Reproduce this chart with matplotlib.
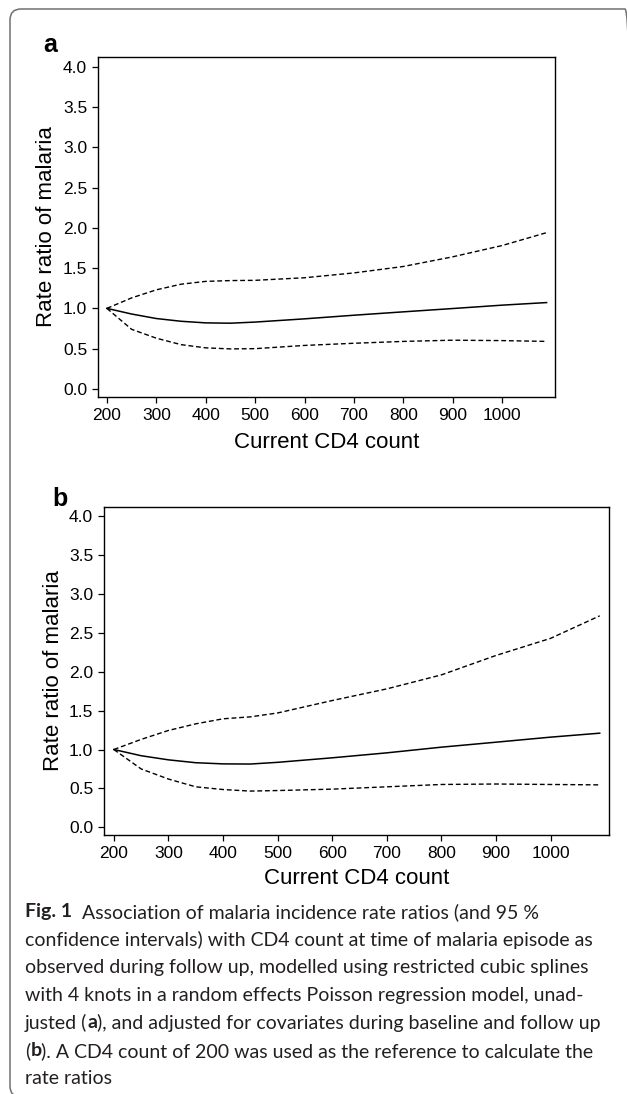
import matplotlib; matplotlib.use("Agg")
import matplotlib.pyplot as plt
from matplotlib.patches import FancyBboxPatch
from matplotlib.transforms import IdentityTransform

# CD4 count grid
cd4 = [200, 250, 300, 350, 400, 450, 500, 600, 700, 800, 900, 1000, 1090]

# panel a: unadjusted
rr_a    = [1.0, 0.93, 0.874, 0.84, 0.82, 0.816, 0.83, 0.87, 0.915, 0.957, 0.998, 1.04, 1.072]
upper_a = [1.0, 1.13, 1.23, 1.30, 1.335, 1.345, 1.348, 1.38, 1.44, 1.52, 1.64, 1.78, 1.94]
lower_a = [1.0, 0.74, 0.63, 0.55, 0.51, 0.497, 0.50, 0.54, 0.567, 0.59, 0.605, 0.60, 0.59]

# panel b: adjusted
rr_b    = [1.0, 0.92, 0.867, 0.83, 0.815, 0.813, 0.835, 0.893, 0.957, 1.03, 1.094, 1.159, 1.21]
upper_b = [1.0, 1.13, 1.245, 1.33, 1.395, 1.42, 1.47, 1.63, 1.78, 1.96, 2.21, 2.43, 2.72]
lower_b = [1.0, 0.75, 0.62, 0.52, 0.485, 0.465, 0.472, 0.49, 0.52, 0.55, 0.556, 0.55, 0.545]

xticks = [200, 300, 400, 500, 600, 700, 800, 900, 1000]
yticks = [0.0, 0.5, 1.0, 1.5, 2.0, 2.5, 3.0, 3.5, 4.0]

caption = [
    [("Fig. 1", "bold"), ("  Association of malaria incidence rate ratios (and 95 %", "normal")],
    [("confidence intervals) with CD4 count at time of malaria episode as", "normal")],
    [("observed during follow up, modelled using restricted cubic splines", "normal")],
    [("with 4 knots in a random effects Poisson regression model, unad-", "normal")],
    [("justed (", "normal"), ("a", "bold"), ("), and adjusted for covariates during baseline and follow up", "normal")],
    [("(", "normal"), ("b", "bold"), ("). A CD4 count of 200 was used as the reference to calculate the", "normal")],
    [("rate ratios", "normal")],
]

W, H = 627, 1094
fig = plt.figure(figsize=(W / 100, H / 100), dpi=100)
TICKFONT = ["Liberation Sans Narrow", "Liberation Sans"]
LABFONT = ["Liberation Sans", "DejaVu Sans"]

def frac(x, y):
    return x / W, 1 - y / H

# card border: only top and left really show, right/bottom run off the edge
fig.patches.append(FancyBboxPatch((10, -3), 626, H - 9 + 3, boxstyle="round,pad=0,rounding_size=11",
                                  transform=IdentityTransform(), fill=False,
                                  edgecolor="#707070", lw=1.1))

def panel(box, rr, up, lo, letter, letter_xy, ylab_x, xlab_y):
    l, t, r, b = box
    ax = fig.add_axes([l / W, 1 - b / H, (r - l) / W, (b - t) / H])
    ax.plot(cd4, rr, color="black", lw=1.1)
    ax.plot(cd4, up, color="black", lw=1.0, dashes=[3.5, 2])
    ax.plot(cd4, lo, color="black", lw=1.0, dashes=[3.5, 2])
    ax.set_xlim(182, 1107)
    ax.set_ylim(-0.1, 4.12)
    ax.set_xticks(xticks)
    ax.set_xticklabels([str(v) for v in xticks], family=TICKFONT, fontsize=12.5)
    ax.set_yticks(yticks)
    ax.set_yticklabels([f"{v:.1f}" for v in yticks], family=TICKFONT, fontsize=12.5)
    ax.tick_params(direction="out", length=4.3, width=0.9, pad=3.5, color="black")
    for s in ax.spines.values():
        s.set_linewidth(1.0)
    fig.text(*frac(*letter_xy), letter, fontsize=18, fontweight="bold",
             family=TICKFONT, ha="left", va="baseline")
    fig.text(*frac(ylab_x, (t + b) / 2), "Rate ratio of malaria", rotation=90,
             fontsize=16, family=LABFONT, ha="center", va="center")
    fig.text(*frac((l + r) / 2, xlab_y), "Current CD4 count",
             fontsize=16, family=LABFONT, ha="center", va="center")
    return ax

panel((98, 57, 555, 397), rr_a, upper_a, lower_a, "a", (43, 52), 47, 443)
panel((104, 507, 609, 835), rr_b, upper_b, lower_b, "b", (52, 506), 54, 878)

# caption, drawn piece by piece so bold parts sit inline
fig.canvas.draw()
renderer = fig.canvas.get_renderer()
line_y = [912, 940, 967, 995, 1023, 1051, 1078]
for pieces, y in zip(caption, line_y):
    x = 25
    for txt, weight in pieces:
        t = fig.text(*frac(x, y), txt, fontsize=14, fontweight=weight,
                     family=["Lato", "DejaVu Sans"], color="#231f20",
                     ha="left", va="center")
        x += t.get_window_extent(renderer).width

fig.savefig("out.png", dpi=100)
